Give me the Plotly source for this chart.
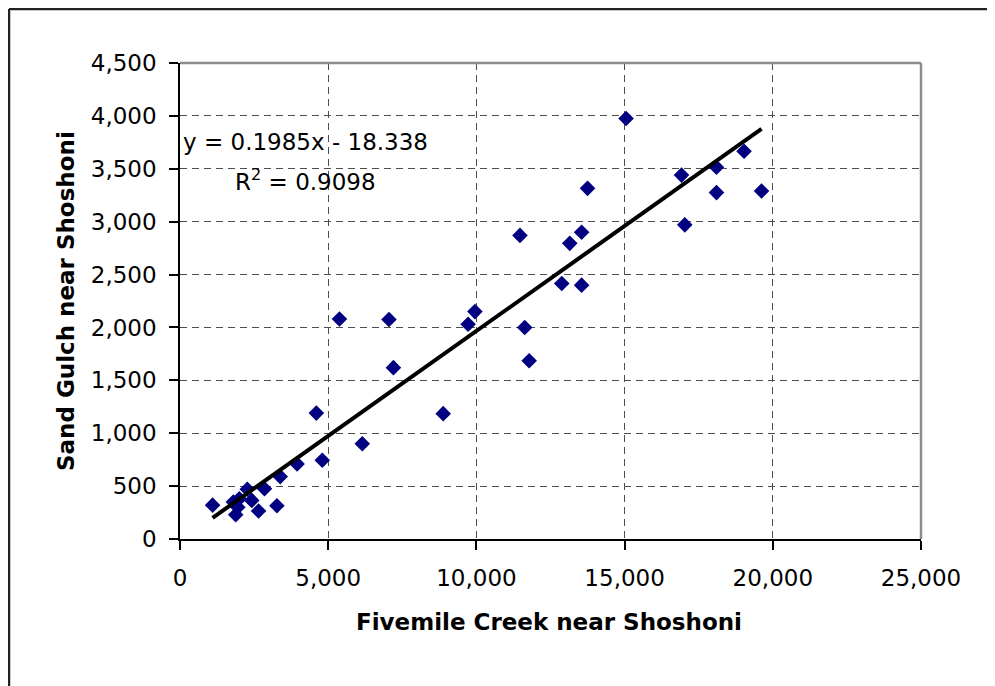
import plotly.graph_objects as go

# Data
fivemile = [1100, 1800, 1880, 1950, 2000, 2270, 2420, 2650, 2850, 3270, 3380, 3950,
            4600, 4800, 5380, 6150, 7050, 7200, 8880, 9720, 9950, 11470, 11630, 11780,
            12880, 13150, 13550, 13550, 13750, 15050, 16920, 17030, 18100, 18100, 19030, 19620]
sand_gulch = [320, 350, 230, 300, 380, 470, 365, 265, 475, 315, 590, 710,
              1190, 745, 2080, 900, 2075, 1620, 1185, 2030, 2150, 2870, 2000, 1685,
              2415, 2795, 2900, 2400, 3315, 3975, 3440, 2970, 3515, 3275, 3665, 3290]
slope = 0.1985
intercept = -18.338
r_squared = 0.9098
x_ticks = [0, 5000, 10000, 15000, 20000, 25000]
y_ticks = [0, 500, 1000, 1500, 2000, 2500, 3000, 3500, 4000, 4500]

# page body has an 8px margin, so the figure is sized to end at the window edge
OFF = 8
W, H = 995 - OFF, 686 - OFF
L, R, T, B = 180 - OFF, 74, 63 - OFF, 147
PW, PH = W - L - R, H - T - B

def px_x(p):
    # p is a window pixel x
    return (p - OFF - L) / PW

def px_y(p):
    # p is a window pixel y
    return (H - B - (p - OFF)) / PH

x_line = [min(fivemile), max(fivemile)]
y_line = [slope * v + intercept for v in x_line]

fig = go.Figure()
fig.add_trace(go.Scatter(
    x=fivemile, y=sand_gulch, mode="markers",
    marker=dict(symbol="diamond", size=12, color="#000080", line=dict(width=0)),
    showlegend=False, hoverinfo="x+y"))
fig.add_trace(go.Scatter(
    x=x_line, y=y_line, mode="lines",
    line=dict(color="black", width=4), showlegend=False, hoverinfo="skip"))

tick_font = dict(family="DejaVu Sans", size=23, color="black")
title_font = dict(family="DejaVu Sans", size=23, color="black")

fig.update_layout(
    width=W, height=H,
    margin=dict(l=L, r=R, t=T, b=B, pad=0),
    paper_bgcolor="white", plot_bgcolor="white",
    xaxis=dict(range=[0, 25000], tickvals=x_ticks, tickformat=",d",
               showline=True, linecolor="black", linewidth=1.5,
               ticks="outside", ticklen=9, tickwidth=1.5, tickcolor="black",
               showgrid=True, gridcolor="#4d4d4d", gridwidth=1, griddash="7px,5px",
               zeroline=False, tickfont=tick_font, ticklabelstandoff=9),
    yaxis=dict(range=[0, 4500], tickvals=y_ticks, tickformat=",d",
               showline=True, linecolor="black", linewidth=1.5,
               ticks="outside", ticklen=9, tickwidth=1.5, tickcolor="black",
               showgrid=True, gridcolor="#4d4d4d", gridwidth=1, griddash="7px,5px",
               zeroline=False, tickfont=tick_font, ticklabelstandoff=8),
    annotations=[
        dict(text="<b>Fivemile Creek near Shoshoni</b>", xref="paper", yref="paper",
             x=px_x(549), y=px_y(622), showarrow=False, font=title_font,
             xanchor="center", yanchor="middle"),
        dict(text="<b>Sand Gulch near Shoshoni</b>", xref="paper", yref="paper",
             x=px_x(66), y=px_y(301), showarrow=False, font=title_font, textangle=-90,
             xanchor="center", yanchor="middle"),
        dict(text="y = %.4fx - %.3f" % (slope, -intercept), xref="paper", yref="paper",
             x=px_x(181), y=px_y(142), showarrow=False,
             font=dict(family="DejaVu Sans", size=23, color="black"),
             xanchor="left", yanchor="middle"),
        dict(text="R<sup>2</sup> = %.4f" % r_squared, xref="paper", yref="paper",
             x=px_x(233), y=px_y(180), showarrow=False,
             font=dict(family="DejaVu Sans", size=23, color="black"),
             xanchor="left", yanchor="middle"),
    ],
    shapes=[
        # gray plot-area border on top and right
        dict(type="line", xref="paper", yref="paper", x0=0, x1=1, y0=1, y1=1,
             line=dict(color="#8c8c8c", width=2.5)),
        dict(type="line", xref="paper", yref="paper", x0=1, x1=1, y0=0, y1=1,
             line=dict(color="#8c8c8c", width=2.5)),
        # outer chart frame (top and left edges visible)
        dict(type="line", xref="paper", yref="paper", layer="below",
             x0=px_x(9), x1=px_x(1010), y0=px_y(9), y1=px_y(9),
             line=dict(color="#222222", width=2.5)),
        dict(type="line", xref="paper", yref="paper", layer="below",
             x0=px_x(9), x1=px_x(9), y0=px_y(9), y1=px_y(700),
             line=dict(color="#222222", width=2.5)),
    ],
)

fig.write_html("out.html")
